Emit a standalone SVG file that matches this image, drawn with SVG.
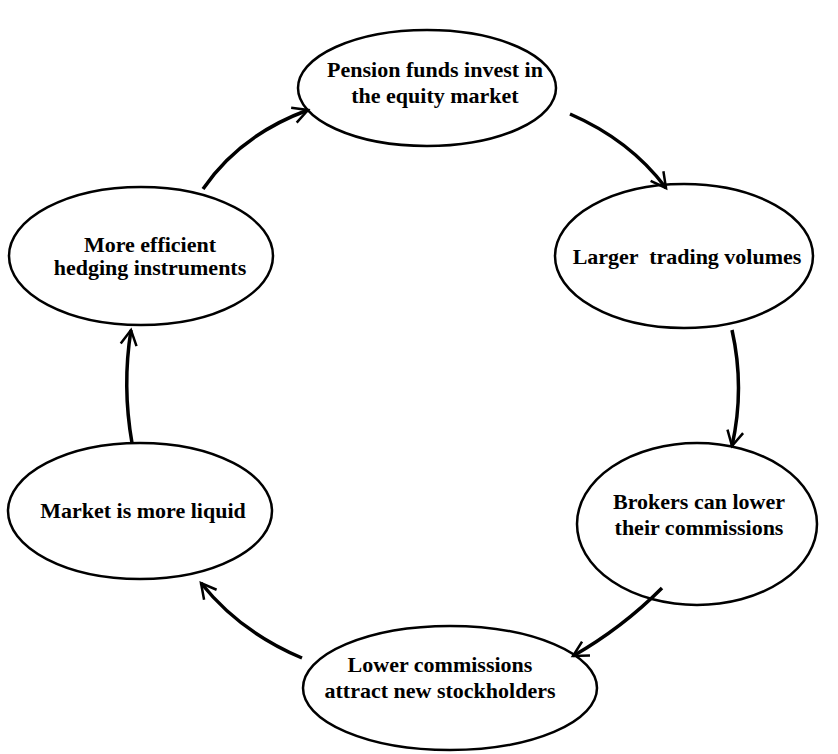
<svg xmlns="http://www.w3.org/2000/svg" width="838" height="754" viewBox="0 0 838 754">
<style>
.node ellipse{fill:#fff;stroke:#000;stroke-width:2.5}
.node text{font-family:"Liberation Serif","Times New Roman",serif;font-weight:bold;font-size:22px;text-anchor:middle;fill:#000}
.conn path{fill:none;stroke:#000;stroke-width:3.5}
</style>
<defs>
<marker id="ah" markerUnits="userSpaceOnUse" markerWidth="30" markerHeight="30" viewBox="-20 -15 30 30" refX="0" refY="0" orient="auto">
<path d="M-15,-8 L0,0 L-15,8" fill="none" stroke="#000" stroke-width="2.5"/>
</marker>
</defs>
<rect width="838" height="754" fill="#fff"/>
<g id="n1" class="node"><ellipse cx="427" cy="88" rx="129" ry="58"/><text x="435" y="77">Pension funds invest in</text><text x="435" y="103">the equity market</text></g>
<g id="n2" class="node"><ellipse cx="684" cy="256" rx="129" ry="72"/><text x="687" y="264" xml:space="preserve">Larger  trading volumes</text></g>
<g id="n3" class="node"><ellipse cx="697" cy="524" rx="120" ry="81"/><text x="699" y="509">Brokers can lower</text><text x="699" y="535">their commissions</text></g>
<g id="n4" class="node"><ellipse cx="450" cy="688" rx="147" ry="62"/><text x="440" y="672">Lower commissions</text><text x="440" y="698">attract new stockholders</text></g>
<g id="n5" class="node"><ellipse cx="140" cy="511" rx="132" ry="68"/><text x="143" y="518">Market is more liquid</text></g>
<g id="n6" class="node"><ellipse cx="141" cy="256" rx="132" ry="69"/><text x="150" y="252">More efficient</text><text x="150" y="275">hedging instruments</text></g>
<g id="connectors" class="conn">
<path d="M203,189 Q240,135 308,110" marker-end="url(#ah)"/>
<path d="M570,114 Q630,140 666,188" marker-end="url(#ah)"/>
<path d="M732,330 Q745,388 732,446" marker-end="url(#ah)"/>
<path d="M662,588 Q622,628 573,656" marker-end="url(#ah)"/>
<path d="M302,658 Q240,632 201,583" marker-end="url(#ah)"/>
<path d="M132,443 Q122,386 131,330" marker-end="url(#ah)"/>
</g>
</svg>
